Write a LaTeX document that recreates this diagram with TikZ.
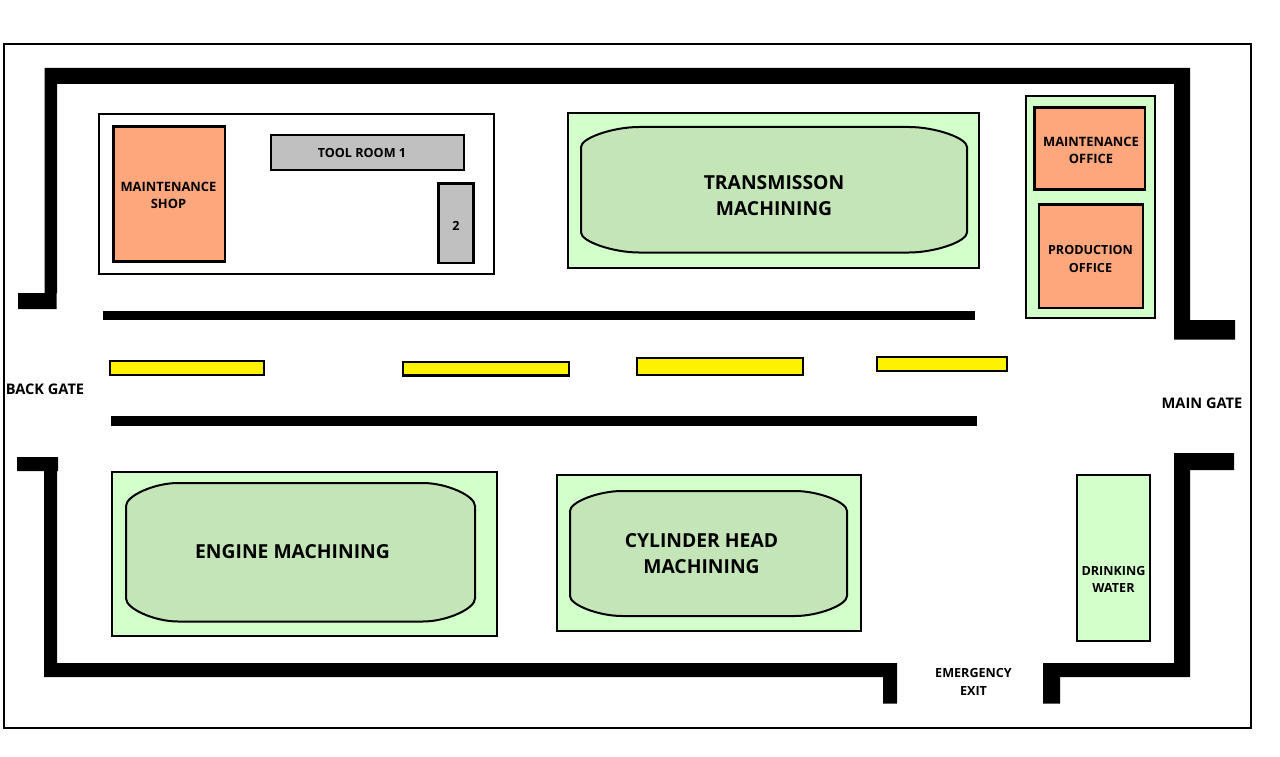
\documentclass[tikz,border=0pt]{standalone}
\usepackage{fontspec}
\setmainfont{Open Sans}
\definecolor{orangeroom}{HTML}{FFA77C}
\definecolor{greyroom}{HTML}{C0C0C0}
\definecolor{palegreen}{HTML}{D3FFCB}
\definecolor{midgreen}{HTML}{C4E5B8}
\definecolor{yellowbar}{HTML}{FFF200}
\tikzset{
  wall/.style={fill=black,draw=none},
  frameline/.style={draw=black,line width=2pt},
  whitebox/.style={draw=black,line width=2pt,fill=white},
  orangebox/.style={draw=black,line width=2.6pt,fill=orangeroom},
  greybox/.style={draw=black,line width=2.4pt,fill=greyroom},
  greenbox/.style={draw=black,line width=2pt,fill=palegreen},
  ovalbox/.style={draw=black,line width=2pt,fill=midgreen},
  yellowbox/.style={draw=black,line width=2.2pt,fill=yellowbar},
  smalltext/.style={inner sep=0pt,align=center,font=\bfseries\fontsize{12.6}{17.5}\selectfont},
  widetext/.style={inner sep=0pt,align=center,font=\bfseries\fontsize{12.9}{17.5}\selectfont},
  gatetext/.style={inner sep=0pt,align=center,font=\bfseries\fontsize{14.6}{17.5}\selectfont},
  bigtext/.style={inner sep=0pt,align=center,font=\bfseries\fontsize{19.3}{26}\selectfont}
}
\newcommand{\blob}[6]{%
  \path[ovalbox] (#1,{#2+#6}) .. controls (#1,{#2+0.55*#6}) and ({#1+0.55*#5},#2) .. ({#1+#5},#2)
    -- ({#3-#5},#2) .. controls ({#3-0.55*#5},#2) and (#3,{#2+0.55*#6}) .. (#3,{#2+#6})
    -- (#3,{#4-#6}) .. controls (#3,{#4-0.55*#6}) and ({#3-0.55*#5},#4) .. ({#3-#5},#4)
    -- ({#1+#5},#4) .. controls ({#1+0.55*#5},#4) and (#1,{#4-0.55*#6}) .. (#1,{#4-#6}) -- cycle;}
\begin{document}
\begin{tikzpicture}[x=1pt,y=-1pt]
\useasboundingbox (0,0) rectangle (1280,757);
\fill[white] (0,0) rectangle (1280,757);
% outer frame
\path[frameline] (4,44) rectangle (1251,728);
% walls
\path[wall] (44.5,68) -- (1190,68) -- (1190,320) -- (1235,320) -- (1235,339.5) -- (1174,339.5) -- (1174,84) -- (57,84) -- (57,293) -- (56.5,293) -- (56.5,309) -- (18,309) -- (18,293) -- (44.5,293) -- cycle;
\path[wall] (17,457) -- (58,457) -- (58,471) -- (57,471) -- (57,663) -- (897,663) -- (897,703.5) -- (883,703.5) -- (883,677) -- (44,677) -- (44,471) -- (17,471) -- cycle;
\path[wall] (1174,453) -- (1234,453) -- (1234,470) -- (1190,470) -- (1190,677) -- (1060,677) -- (1060,703.5) -- (1043,703.5) -- (1043,663) -- (1174,663) -- cycle;
% road
\path[wall] (103,311) rectangle (975,320);
\path[wall] (111,416) rectangle (977,426);
\path[yellowbox] (110,361) rectangle (264,375);
\path[yellowbox] (403,362) rectangle (569,375.5);
\path[yellowbox] (637,358) rectangle (803,375);
\path[yellowbox] (877,357) rectangle (1007,371);
% top-left block
\path[whitebox] (98.5,114.5) rectangle (494,273.5);
\path[orangebox] (113.5,126.5) rectangle (225,261.5);
\path[greybox] (271,135) rectangle (464,170);
\path[greybox] (438.5,183.5) rectangle (473.5,263);
% transmission
\path[greenbox] (568,113) rectangle (979,268);
\blob{581}{127}{967}{252.5}{58}{20}
% offices
\path[greenbox] (1026,96) rectangle (1155,317.5);
\path[orangebox] (1034.5,107.5) rectangle (1145,189.5);
\path[orangebox] (1039,204.5) rectangle (1143,308);
% engine
\path[greenbox] (112,472) rectangle (497,635.5);
\blob{126}{483}{475}{621.5}{52}{23}
% cylinder head
\path[greenbox] (557,475) rectangle (861,630.5);
\blob{570}{491}{847}{616}{52}{20}
% drinking water
\path[greenbox] (1077,475) rectangle (1150,641);
% labels
\node[widetext] (tshop) at (168.5,195.5) {MAINTENANCE\\SHOP};
\node[smalltext] (ttool) at (362,153) {TOOL ROOM 1};
\node[smalltext] (ttwo) at (456,225.5) {2};
\node[bigtext] (ttrans) at (774,195.5) {TRANSMISSON\\MACHINING};
\node[widetext] (tmoff) at (1091,150.5) {MAINTENANCE\\OFFICE};
\node[smalltext] (tpoff) at (1090.5,259) {PRODUCTION\\OFFICE};
\node[bigtext] (tengine) at (292.5,551.5) {ENGINE MACHINING};
\node[bigtext] (tcyl) at (701.5,553.5) {CYLINDER HEAD\\MACHINING};
\node[smalltext] (tdrink) at (1113.5,579.5) {DRINKING\\WATER};
\node[smalltext] (temerg) at (973.5,682) {EMERGENCY\\EXIT};
\node[gatetext] (tback) at (45,389.5) {BACK GATE};
\node[gatetext] (tmain) at (1202,403) {MAIN GATE};
\end{tikzpicture}
\end{document}
